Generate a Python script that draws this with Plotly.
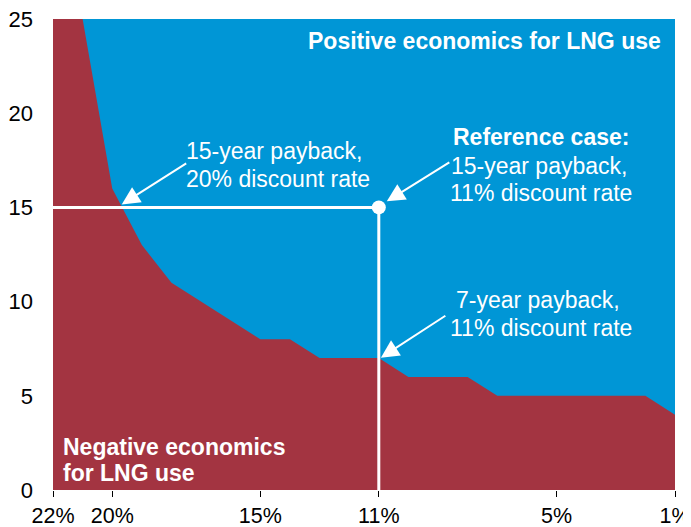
import plotly.graph_objects as go

# Data
discount_rate = [22, 21, 20, 19, 18, 17, 16, 15, 14, 13, 12, 11, 10, 9, 8, 7, 6, 5, 4, 3, 2, 1]
payback_years = [25, 25, 16, 13, 11, 10, 9, 8, 8, 7, 7, 7, 6, 6, 6, 5, 5, 5, 5, 5, 5, 4]
x_ticks = [22, 20, 15, 11, 5, 1]
x_tick_labels = ["22%", "20%", "15%", "11%", "5%", "1%"]
y_ticks = [0, 5, 10, 15, 20, 25]
ref_rate = 11
ref_payback = 15

BLUE = "#0096d6"
RED = "#a33441"
FONT = "Liberation Sans, Arial, sans-serif"
FS = 23

fig = go.Figure()
fig.add_trace(go.Scatter(x=discount_rate, y=payback_years, mode="lines",
                         line=dict(width=0, color=RED), fill="tozeroy",
                         fillcolor=RED, hoverinfo="skip", showlegend=False))
fig.add_trace(go.Scatter(x=[discount_rate[0], ref_rate, ref_rate],
                         y=[ref_payback, ref_payback, 0], mode="lines",
                         line=dict(width=3, color="white"), showlegend=False))
fig.add_trace(go.Scatter(x=[ref_rate], y=[ref_payback], mode="markers",
                         marker=dict(size=14, color="white"), showlegend=False))

def txt(text, x, y, xanchor="center", bold=False):
    fig.add_annotation(x=x, y=y, xref="x", yref="y", showarrow=False,
                       text=("<b>%s</b>" % text) if bold else text,
                       xanchor=xanchor, yanchor="middle",
                       font=dict(family=FONT, size=FS, color="white"))

txt("Positive economics for LNG use", 7.43, 23.83, bold=True)
txt("15-year payback,", 17.59, 17.98, xanchor="left")
txt("20% discount rate", 17.59, 16.49, xanchor="left")
txt("Reference case:", 5.51, 18.72, bold=True)
txt("15-year payback,", 5.58, 17.21)
txt("11% discount rate", 5.51, 15.74)
txt("7-year payback,", 5.61, 10.11)
txt("11% discount rate", 5.51, 8.62)
txt("Negative economics", 21.73, 2.29, xanchor="left", bold=True)
txt("for LNG use", 21.73, 0.90, xanchor="left", bold=True)

def arrow(x, y, ax, ay):
    fig.add_annotation(x=x, y=y, xref="x", yref="y", text="", showarrow=True,
                       ax=ax, ay=ay, arrowhead=2, arrowsize=1.8, arrowwidth=2,
                       arrowcolor="white", standoff=0)

arrow(19.68, 15.16, 66, -42)
arrow(10.73, 15.32, 64, -40)
arrow(10.93, 7.02, 66, -43)

# the page body has an 8px margin, so the figure is sized to end at the window edge
fig.update_layout(
    template="none",
    width=683, height=519,
    margin=dict(l=45, r=16, t=11, b=37, autoexpand=False),
    paper_bgcolor="white", plot_bgcolor=BLUE,
    font=dict(family=FONT, size=FS, color="black"),
    showlegend=False,
)
fig.update_xaxes(range=[22, 1], tickvals=x_ticks, ticktext=x_tick_labels,
                 ticks="outside", ticklen=6, tickcolor="black", tickwidth=1,
                 showgrid=False, zeroline=False, showline=False,
                 automargin=False, ticklabeloverflow="allow", ticklabelstandoff=0,
                 tickfont=dict(family=FONT, size=21.5, color="black"))
fig.update_yaxes(range=[0, 25], tickvals=y_ticks, ticks="",
                 showgrid=False, zeroline=False, showline=False,
                 automargin=False, ticklabeloverflow="allow", ticklabelstandoff=19,
                 tickfont=dict(family=FONT, size=22, color="black"))

fig.write_html("out.html")
